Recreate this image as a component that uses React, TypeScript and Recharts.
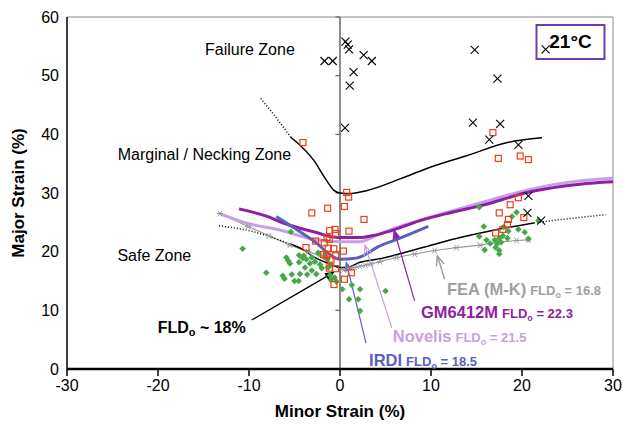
import React from 'react';
import { ComposedChart, XAxis, YAxis, Line, Scatter, ReferenceLine, ReferenceDot } from 'recharts';

const FONT = '"Liberation Sans", Arial, Helvetica, sans-serif';

const xTicks = [-30, -20, -10, 0, 10, 20, 30];
const yTicks = [0, 10, 20, 30, 40, 50, 60];

// Failure points (X markers)
const failurePts = [
  { x: 0.6, y: 55.8 }, { x: 0.85, y: 55.3 }, { x: 1.0, y: 54.5 }, { x: -1.7, y: 52.5 }, { x: -0.8, y: 52.5 },
  { x: 2.6, y: 53.5 }, { x: 3.5, y: 52.5 }, { x: 1.5, y: 50.6 }, { x: 1.07, y: 48.3 }, { x: 0.55, y: 41.1 },
  { x: 14.8, y: 54.4 }, { x: 17.3, y: 49.5 }, { x: 14.6, y: 42.0 }, { x: 17.6, y: 41.8 }, { x: 16.4, y: 39.1 },
  { x: 19.6, y: 38.2 }, { x: 22.6, y: 54.5 }, { x: 20.7, y: 29.5 }, { x: 20.6, y: 26.6 }, { x: 22.1, y: 25.3 },
];

// Marginal / necking points (red squares)
const neckingPts = [
  { x: -4.07, y: 38.6 }, { x: 0.73, y: 30.1 }, { x: 0.95, y: 29.3 }, { x: -1.36, y: 27.4 }, { x: -3.1, y: 26.6 },
  { x: 0.48, y: 27.7 }, { x: 2.64, y: 25.5 }, { x: -0.55, y: 23.8 }, { x: 0.99, y: 23.5 }, { x: -1.14, y: 23.6 },
  { x: -1.43, y: 22.4 }, { x: -2.68, y: 21.8 }, { x: -1.73, y: 21.5 }, { x: -3.74, y: 20.7 }, { x: -1.29, y: 20.6 },
  { x: -1.8, y: 19.5 }, { x: -1.47, y: 19.3 }, { x: 0.37, y: 20.1 }, { x: -0.99, y: 18.6 }, { x: -0.48, y: 19.3 },
  { x: -1.18, y: 17.2 }, { x: -0.48, y: 17.1 }, { x: 1.25, y: 16.4 }, { x: 0.48, y: 15.3 }, { x: -0.66, y: 14.4 },
  { x: -0.69, y: 20.5 }, { x: -1.18, y: 22.1 }, { x: -0.48, y: 23.1 },
  { x: 19.6, y: 29.2 }, { x: 18.7, y: 28.0 }, { x: 17.5, y: 26.6 }, { x: 18.5, y: 25.5 }, { x: 20.2, y: 25.8 },
  { x: 18.4, y: 24.6 }, { x: 17.9, y: 23.8 }, { x: 17.1, y: 23.2 }, { x: 16.8, y: 40.3 }, { x: 17.4, y: 35.9 },
  { x: 19.8, y: 36.3 }, { x: 20.7, y: 35.7 },
];

// Safe points (green diamonds)
const safePts = [
  { x: -5.4, y: 23.4 }, { x: -10.7, y: 20.5 }, { x: -5.9, y: 19.0 }, { x: -5.7, y: 18.5 }, { x: -5.5, y: 18.0 },
  { x: -4.5, y: 19.4 }, { x: -4.1, y: 18.9 }, { x: -3.7, y: 18.7 }, { x: -4.5, y: 18.2 }, { x: -3.1, y: 19.0 },
  { x: -2.75, y: 18.3 }, { x: -2.2, y: 17.8 }, { x: -1.4, y: 18.7 }, { x: -1.3, y: 17.3 }, { x: -3.85, y: 17.3 },
  { x: -8.1, y: 16.4 }, { x: -6.3, y: 15.9 }, { x: -5.3, y: 16.1 }, { x: -4.4, y: 16.2 }, { x: -3.6, y: 16.1 },
  { x: -2.6, y: 16.2 }, { x: -5.0, y: 15.0 }, { x: -4.55, y: 15.0 }, { x: -0.4, y: 14.9 }, { x: 0.25, y: 13.6 },
  { x: 1.0, y: 11.9 }, { x: 2.0, y: 11.9 }, { x: 5.0, y: 13.3 }, { x: -6.1, y: 15.4 }, { x: 2.2, y: 9.9 },
  { x: 1.3, y: 14.3 }, { x: -1.0, y: 15.2 }, { x: -3.1, y: 16.8 }, { x: -2.0, y: 17.2 }, { x: -1.1, y: 16.0 },
  { x: -0.6, y: 15.6 }, { x: 2.2, y: 13.6 }, { x: -4.0, y: 19.3 }, { x: -3.3, y: 18.0 }, { x: -1.65, y: 19.3 },
  { x: -2.4, y: 19.8 }, { x: -1.0, y: 17.8 },
  { x: 15.3, y: 27.6 }, { x: 19.4, y: 26.7 }, { x: 18.9, y: 26.0 }, { x: 15.8, y: 24.3 }, { x: 19.6, y: 23.8 },
  { x: 20.3, y: 23.3 }, { x: 18.5, y: 23.5 }, { x: 17.9, y: 22.7 }, { x: 15.3, y: 22.6 }, { x: 16.1, y: 22.0 },
  { x: 17.0, y: 22.0 }, { x: 17.5, y: 22.3 }, { x: 18.4, y: 22.3 }, { x: 20.7, y: 22.2 }, { x: 16.5, y: 21.4 },
  { x: 17.3, y: 21.4 }, { x: 17.7, y: 21.6 }, { x: 17.1, y: 20.7 }, { x: 17.5, y: 20.2 }, { x: 15.9, y: 20.3 },
  { x: 17.5, y: 19.6 }, { x: 21.8, y: 25.3 }, { x: 18.0, y: 24.2 },
];

// Lower black FLC
const flcLower = [
  { x: -5.5, y: 21.3 }, { x: -4, y: 20.3 }, { x: -2.9, y: 19.1 }, { x: -1.1, y: 17.9 }, { x: 0, y: 17.3 },
  { x: 0.7, y: 17.3 }, { x: 2.2, y: 18.2 }, { x: 4.4, y: 18.8 }, { x: 10, y: 21.1 }, { x: 13.2, y: 22.4 },
  { x: 17, y: 23.7 }, { x: 21.3, y: 24.9 },
];
const flcLowerDotL = [{ x: -13.3, y: 24.4 }, { x: -9.5, y: 23.4 }, { x: -5.5, y: 21.3 }];
const flcLowerDotR = [{ x: 21.3, y: 24.9 }, { x: 25, y: 25.6 }, { x: 29.2, y: 26.3 }];

// Upper black curve
const flcUpperDot = [{ x: -8.7, y: 46.1 }, { x: -7, y: 42.8 }, { x: -5.4, y: 39.5 }];
const flcUpper = [
  { x: -5.4, y: 39.5 }, { x: -2.9, y: 35.6 }, { x: -1.5, y: 32.2 }, { x: -0.7, y: 30.5 }, { x: 0, y: 30.0 },
  { x: 1, y: 29.9 }, { x: 2.9, y: 30.4 }, { x: 6.6, y: 32.4 }, { x: 9.4, y: 34.1 }, { x: 14, y: 36.4 },
  { x: 18.4, y: 38.6 }, { x: 22.2, y: 39.4 },
];

// FEA (M-K)
const feaCurve = [
  { x: -13.2, y: 26.5 }, { x: -10.1, y: 24.3 }, { x: -7.8, y: 22.7 }, { x: -5.5, y: 21.1 }, { x: -3.5, y: 20.0 },
  { x: -2.2, y: 19.3 }, { x: -1, y: 18.0 }, { x: 0.4, y: 16.9 }, { x: 1, y: 17.1 }, { x: 1.6, y: 17.3 },
  { x: 2.2, y: 17.5 }, { x: 2.8, y: 17.7 }, { x: 3.4, y: 17.9 }, { x: 4.4, y: 18.3 }, { x: 6.2, y: 19.0 },
  { x: 8.2, y: 19.6 }, { x: 10.4, y: 20.2 }, { x: 12.8, y: 20.7 }, { x: 15.4, y: 21.1 }, { x: 17.2, y: 21.6 },
  { x: 19.4, y: 21.9 }, { x: 20.7, y: 22.0 },
];

// GM6412M
const gmCurve = [
  { x: -11.1, y: 27.3 }, { x: -8, y: 26.0 }, { x: -6.6, y: 25.1 }, { x: -4.4, y: 24.0 }, { x: -2.9, y: 23.4 },
  { x: -0.7, y: 22.5 }, { x: 0, y: 22.4 }, { x: 2.2, y: 22.4 }, { x: 3.5, y: 22.7 }, { x: 5.5, y: 23.5 },
  { x: 8.8, y: 25.3 }, { x: 12, y: 26.6 }, { x: 15.4, y: 27.8 }, { x: 20.9, y: 30.2 }, { x: 26.4, y: 31.5 },
  { x: 30, y: 31.9 },
];

// Novelis
const novelisCurve = [
  { x: -13.2, y: 26.5 }, { x: -10.1, y: 24.8 }, { x: -6.6, y: 23.7 }, { x: -2.9, y: 22.1 }, { x: 0, y: 21.7 },
  { x: 2.2, y: 21.7 }, { x: 4, y: 22.8 }, { x: 6.6, y: 24.3 }, { x: 10, y: 25.9 }, { x: 15.4, y: 28.3 },
  { x: 20.9, y: 30.6 }, { x: 26, y: 32.0 }, { x: 30, y: 32.5 },
];

// IRDI
const irdiCurve = [
  { x: -7.0, y: 26.0 }, { x: -4.4, y: 23.4 }, { x: -2.6, y: 21.5 }, { x: -1.2, y: 19.6 }, { x: 0, y: 18.7 },
  { x: 1.8, y: 18.9 }, { x: 4.4, y: 21.0 }, { x: 6.6, y: 22.3 }, { x: 9.7, y: 24.3 },
];

const C_GM = '#8e1fa3';
const C_NOV = '#c79fe3';
const C_IRDI = '#5a60c2';
const C_FEA = '#9a9a9a';
const C_RED = '#e8401c';
const C_GREEN = '#46a846';

const XMark = (p: any) => {
  const { cx, cy } = p;
  const s = 4;
  return (
    <g>
      <line x1={cx - s} y1={cy - s} x2={cx + s} y2={cy + s} stroke="#000" strokeWidth={1.1} />
      <line x1={cx - s} y1={cy + s} x2={cx + s} y2={cy - s} stroke="#000" strokeWidth={1.1} />
    </g>
  );
};
const SquareMark = (p: any) => {
  const { cx, cy } = p;
  return <rect x={cx - 3} y={cy - 3} width={6} height={6} fill="none" stroke={C_RED} strokeWidth={1.2} />;
};
const DiamondMark = (p: any) => {
  const { cx, cy } = p;
  const s = 3.3;
  return <polygon points={`${cx},${cy - s} ${cx + s},${cy} ${cx},${cy + s} ${cx - s},${cy}`} fill={C_GREEN} />;
};
const AsteriskDot = (p: any) => {
  const { cx, cy, index } = p;
  const s = 3.2;
  return (
    <g key={`ast-${index}`}>
      <line x1={cx - s} y1={cy} x2={cx + s} y2={cy} stroke={C_FEA} strokeWidth={1} />
      <line x1={cx - s * 0.7} y1={cy - s * 0.9} x2={cx + s * 0.7} y2={cy + s * 0.9} stroke={C_FEA} strokeWidth={1} />
      <line x1={cx - s * 0.7} y1={cy + s * 0.9} x2={cx + s * 0.7} y2={cy - s * 0.9} stroke={C_FEA} strokeWidth={1} />
    </g>
  );
};

const makeArrow = (color: string, filled: boolean, width = 1.2) => (p: any) => {
  const { x1, y1, x2, y2 } = p;
  if ([x1, y1, x2, y2].some((v) => v == null || isNaN(v))) return <g />;
  const dx = x2 - x1;
  const dy = y2 - y1;
  const len = Math.sqrt(dx * dx + dy * dy) || 1;
  const ux = dx / len;
  const uy = dy / len;
  const hl = 10;
  const hw = 4;
  const bx = x2 - ux * hl;
  const by = y2 - uy * hl;
  const lx = bx - uy * hw;
  const ly = by + ux * hw;
  const rx = bx + uy * hw;
  const ry = by - ux * hw;
  return (
    <g>
      <line x1={x1} y1={y1} x2={filled ? bx : x2} y2={filled ? by : y2} stroke={color} strokeWidth={width} />
      {filled ? (
        <polygon points={`${x2},${y2} ${lx},${ly} ${rx},${ry}`} fill={color} />
      ) : (
        <polyline points={`${lx},${ly} ${x2},${y2} ${rx},${ry}`} fill="none" stroke={color} strokeWidth={width} />
      )}
    </g>
  );
};

const plainText = (text: string, size: number, anchor: string = 'middle', weight: string = 'normal') => (p: any) => (
  <text x={p.cx} y={p.cy} dy={size * 0.35} textAnchor={anchor} fontSize={size} fontWeight={weight} fill="#000" fontFamily={FONT}>
    {text}
  </text>
);

const fldText = (main: string, val: string, color: string) => (p: any) => (
  <text x={p.cx} y={p.cy + 5.5} textAnchor="start" fontWeight="bold" fill={color} fontFamily={FONT}>
    <tspan fontSize={16.5}>{main}</tspan>
    <tspan fontSize={13} dx={4}>FLD</tspan>
    <tspan fontSize={9} dy={3}>o</tspan>
    <tspan fontSize={13} dy={-3}>{` = ${val}`}</tspan>
  </text>
);

const fld18Text = (p: any) => (
  <text x={p.cx} y={p.cy + 6} textAnchor="middle" fontWeight="bold" fill="#000" fontFamily={FONT} fontSize={16}>
    <tspan>FLD</tspan>
    <tspan fontSize={11} dy={3}>o</tspan>
    <tspan dy={-3}>{' ~ 18%'}</tspan>
  </text>
);

const tempBox = (p: any) => (
  <g>
    <rect x={p.cx - 34} y={p.cy - 17} width={68} height={34} fill="none" stroke="#6a3db3" strokeWidth={2} />
    <text x={p.cx} y={p.cy + 6.5} textAnchor="middle" fontWeight="bold" fontSize={19} fill="#000" fontFamily={FONT}>
      21°C
    </text>
  </g>
);

const YTitle = () => (
  <text transform="translate(24,193) rotate(-90)" textAnchor="middle" fontWeight="bold" fontSize={17} fill="#000" fontFamily={FONT}>
    Major Strain (%)
  </text>
);
const XTitle = () => (
  <text x={340} y={417} textAnchor="middle" fontWeight="bold" fontSize={17} fill="#000" fontFamily={FONT}>
    Minor Strain (%)
  </text>
);

export default function App() {
  const lineProps = { dataKey: 'y', dot: false, isAnimationActive: false, activeDot: false, legendType: 'none' as const };
  return (
    <div style={{ position: 'absolute', left: 0, top: 0, background: '#fff' }}>
      <ComposedChart width={623} height={425} margin={{ top: 17, right: 10, bottom: 26, left: 0 }}>
        <XAxis
          type="number"
          dataKey="x"
          domain={[-30, 30]}
          ticks={xTicks}
          allowDataOverflow
          height={30}
          tickSize={7}
          tickMargin={4}
          axisLine={{ stroke: '#000', strokeWidth: 2.5 }}
          tickLine={{ stroke: '#000', strokeWidth: 1.5 }}
          tick={{ fontSize: 16, fill: '#000', fontFamily: FONT }}
          label={<XTitle />}
        />
        <YAxis
          type="number"
          domain={[0, 60]}
          ticks={yTicks}
          allowDataOverflow
          width={67}
          tickLine={false}
          tickSize={6}
          tickMargin={2}
          axisLine={{ stroke: '#000', strokeWidth: 1.5 }}
          tick={{ fontSize: 16, fill: '#000', fontFamily: FONT }}
          label={<YTitle />}
        />
        <ReferenceLine y={60} stroke="#888" strokeWidth={1} ifOverflow="visible" />
        <ReferenceLine x={30} stroke="#888" strokeWidth={1} ifOverflow="visible" />
        <ReferenceLine x={0} stroke="#666" strokeWidth={1.5} ifOverflow="visible" />
        {[10, 20, 30, 40, 50, 60].map((v) => (
          <ReferenceLine key={`t${v}`} segment={[{ x: -0.5, y: v }, { x: 0, y: v }]} stroke="#666" strokeWidth={1.2} ifOverflow="visible" />
        ))}

        <Line data={feaCurve} type="linear" stroke={C_FEA} strokeWidth={1.2} {...lineProps} dot={AsteriskDot} />
        <Line data={novelisCurve} type="monotone" stroke={C_NOV} strokeWidth={3} {...lineProps} />
        <Line data={gmCurve} type="monotone" stroke={C_GM} strokeWidth={3} {...lineProps} />
        <Line data={irdiCurve} type="monotone" stroke={C_IRDI} strokeWidth={3} {...lineProps} />
        <Line data={flcUpper} type="monotone" stroke="#000" strokeWidth={1.5} {...lineProps} />
        <Line data={flcUpperDot} type="monotone" stroke="#000" strokeWidth={1.5} strokeDasharray="1 2" {...lineProps} />
        <Line data={flcLower} type="monotone" stroke="#000" strokeWidth={1.5} {...lineProps} />
        <Line data={flcLowerDotL} type="monotone" stroke="#000" strokeWidth={1.5} strokeDasharray="1 2" {...lineProps} />
        <Line data={flcLowerDotR} type="monotone" stroke="#000" strokeWidth={1.5} strokeDasharray="1 2" {...lineProps} />

        <Scatter data={safePts} dataKey="y" shape={DiamondMark} isAnimationActive={false} legendType="none" />
        <Scatter data={neckingPts} dataKey="y" shape={SquareMark} isAnimationActive={false} legendType="none" />
        <Scatter data={failurePts} dataKey="y" shape={XMark} isAnimationActive={false} legendType="none" />

        <ReferenceLine segment={[{ x: -9.7, y: 8.35 }, { x: -0.55, y: 16.6 }]} shape={makeArrow('#000', true, 1.2)} ifOverflow="visible" />
        <ReferenceLine segment={[{ x: 11.5, y: 15.3 }, { x: 10.7, y: 19.3 }]} shape={makeArrow(C_FEA, false, 1.4)} ifOverflow="visible" />
        <ReferenceLine segment={[{ x: 8.2, y: 11.6 }, { x: 5.9, y: 23.9 }]} shape={makeArrow(C_GM, true, 1.2)} ifOverflow="visible" />
        <ReferenceLine segment={[{ x: 5.7, y: 7.0 }, { x: 2.75, y: 21.1 }]} shape={makeArrow(C_NOV, false, 1.2)} ifOverflow="visible" />
        <ReferenceLine segment={[{ x: 2.86, y: 4.4 }, { x: 0.66, y: 18.4 }]} shape={makeArrow(C_IRDI, true, 1.2)} ifOverflow="visible" />

        <ReferenceDot x={-9.9} y={54.4} r={0} shape={plainText('Failure Zone', 16)} ifOverflow="visible" />
        <ReferenceDot x={-14.9} y={36.5} r={0} shape={plainText('Marginal / Necking Zone', 16)} ifOverflow="visible" />
        <ReferenceDot x={-20.4} y={19.3} r={0} shape={plainText('Safe Zone', 16)} ifOverflow="visible" />
        <ReferenceDot x={-15.2} y={7.2} r={0} shape={fld18Text} ifOverflow="visible" />
        <ReferenceDot x={11.76} y={13.5} r={0} shape={fldText('FEA (M-K)', '16.8', '#a0a0a0')} ifOverflow="visible" />
        <ReferenceDot x={8.9} y={9.7} r={0} shape={fldText('GM6412M', '22.3', C_GM)} ifOverflow="visible" />
        <ReferenceDot x={5.8} y={5.6} r={0} shape={fldText('Novelis', '21.5', C_NOV)} ifOverflow="visible" />
        <ReferenceDot x={3.2} y={1.5} r={0} shape={fldText('IRDI', '18.5', C_IRDI)} ifOverflow="visible" />
        <ReferenceDot x={25.33} y={55.74} r={0} shape={tempBox} ifOverflow="visible" />
      </ComposedChart>
    </div>
  );
}
